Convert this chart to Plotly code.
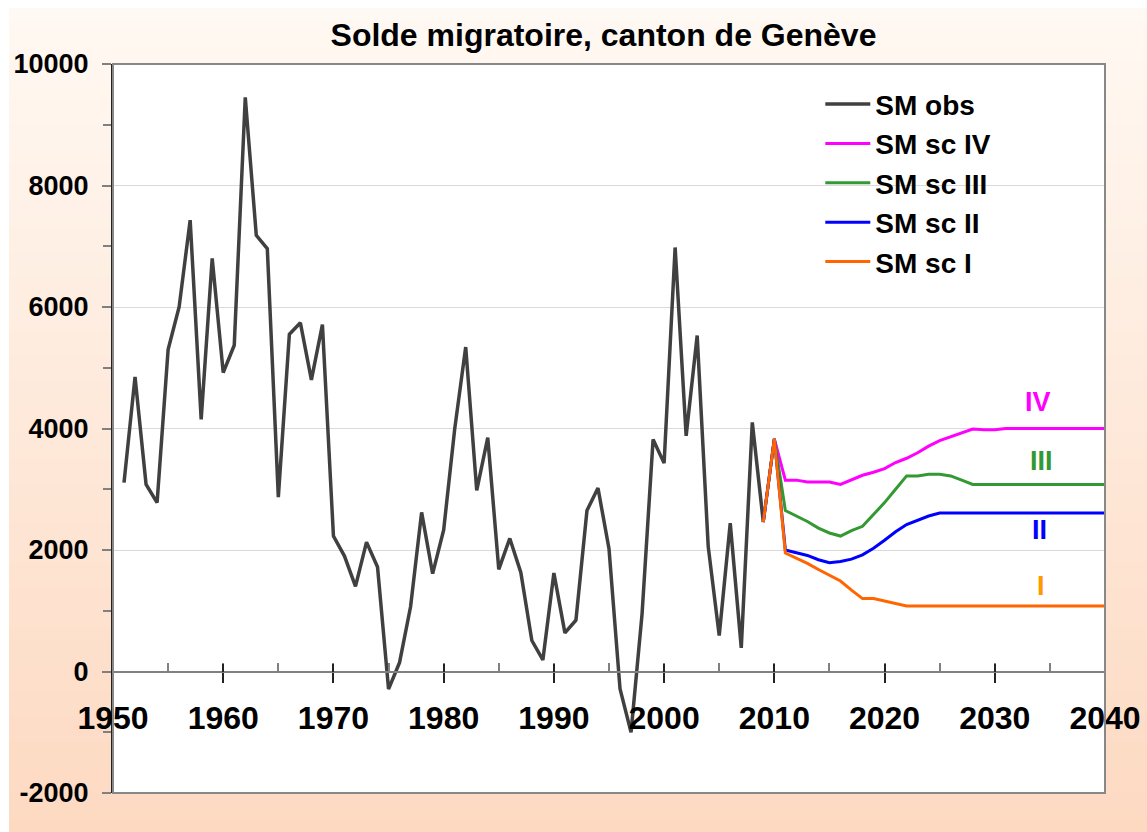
import plotly.graph_objects as go

# ---------------- data ----------------
obs_years = list(range(1951, 2010))
obs_values = [3110, 4850, 3080, 2780, 5300, 6000, 7430, 4150, 6800, 4920,
              5370, 9450, 7180, 6960, 2870, 5550, 5740, 4800, 5710, 2230,
              1900, 1400, 2130, 1720, -290, 150, 1070, 2620, 1610, 2330,
              3990, 5340, 2980, 3850, 1680, 2190, 1630, 510, 190, 1620,
              635, 845, 2650, 3020, 2020, -285, -1000, 950, 3820, 3430,
              6980, 3880, 5530, 2060, 590, 2440, 390, 4100, 2460]

sc_years = list(range(2009, 2041))
sc_IV = [2460, 3830, 3150, 3150, 3120, 3120, 3120, 3080, 3160, 3230,
         3280, 3340, 3440, 3510, 3600, 3710, 3800, 3860, 3920, 3990,
         3980, 3980, 4000, 4000, 4000, 4000, 4000, 4000, 4000, 4000,
         4000, 4000]
sc_III = [2460, 3830, 2650, 2560, 2470, 2360, 2280, 2230, 2320, 2390,
          2580, 2780, 3000, 3220, 3220, 3245, 3245, 3220, 3150, 3080,
          3080, 3080, 3080, 3080, 3080, 3080, 3080, 3080, 3080, 3080,
          3080, 3080]
sc_II = [2460, 3830, 2000, 1950, 1910, 1840, 1790, 1810, 1850, 1920,
         2030, 2160, 2300, 2420, 2490, 2560, 2610, 2610, 2610, 2610,
         2610, 2610, 2610, 2610, 2610, 2610, 2610, 2610, 2610, 2610,
         2610, 2610]
sc_I = [2460, 3830, 1950, 1870, 1780, 1680, 1580, 1490, 1340, 1200,
        1200, 1160, 1120, 1080, 1080, 1080, 1080, 1080, 1080, 1080,
        1080, 1080, 1080, 1080, 1080, 1080, 1080, 1080, 1080, 1080,
        1080, 1080]

series_names = ["SM obs", "SM sc IV", "SM sc III", "SM sc II", "SM sc I"]
label_texts = ["IV", "III", "II", "I"]
label_x = [2033.9, 2034.2, 2034.1, 2034.2]
label_y = [4430, 3460, 2330, 1400]

x_tick_vals = [1950, 1960, 1970, 1980, 1990, 2000, 2010, 2020, 2030, 2040]
x_tick_text = ["1950", "1960", "1970", "1980", "1990", "2000", "2010", "2020", "2030", "2040"]
y_tick_vals = [-2000, 0, 2000, 4000, 6000, 8000, 10000]
y_tick_text = ["-2000", "0", "2000", "4000", "6000", "8000", "10000"]

title_text = "Solde migratoire, canton de Genève"

# ---------------- style ----------------
FONT = "Liberation Sans, Arial, sans-serif"
c_obs = "#404040"
c_IV = "#FF00FF"
c_III = "#339933"
c_II = "#0000FF"
c_I = "#FF6600"
label_colors = ["#FF00FF", "#339933", "#0000FF", "#FF9900"]

W, H = 1147, 832
ml, mr, mt, mb = 113, 42, 64, 39
PW = W - ml - mr
PH = H - mt - mb


def px_to_paper_x(px):
    return (px - ml) / PW


def px_to_paper_y(py):
    return (H - mb - py) / PH


fig = go.Figure()
fig.add_trace(go.Scatter(x=obs_years, y=obs_values, mode="lines", name=series_names[0],
                         line=dict(color=c_obs, width=3.5)))
for name, vals, col in [(series_names[1], sc_IV, c_IV), (series_names[2], sc_III, c_III),
                        (series_names[3], sc_II, c_II), (series_names[4], sc_I, c_I)]:
    fig.add_trace(go.Scatter(x=sc_years, y=vals, mode="lines", name=name,
                             line=dict(color=col, width=3)))
# helper trace for the overlay axis (crossing major ticks)
fig.add_trace(go.Scatter(x=[x_tick_vals[0]], y=[None], xaxis="x2", showlegend=False,
                         hoverinfo="skip", mode="lines"))

for t, xx, yy, col in zip(label_texts, label_x, label_y, label_colors):
    fig.add_annotation(x=xx, y=yy, text=t, showarrow=False, xanchor="center", yanchor="middle",
                       font=dict(family=FONT, size=27, color=col, weight="bold"))

# background gradient (chart area, from pixel y=8 to bottom, x=9 to right)
top = (255, 249, 243)
bot = (253, 217, 193)
n = 64
py_top, py_bot = 8, H
shapes = []
for i in range(n):
    f = (i + 0.5) / n
    r = round(top[0] + (bot[0] - top[0]) * f)
    g = round(top[1] + (bot[1] - top[1]) * f)
    b = round(top[2] + (bot[2] - top[2]) * f)
    pa = py_top + (py_bot - py_top) * i / n
    pb = py_top + (py_bot - py_top) * (i + 1) / n + 1
    shapes.append(dict(type="rect", xref="paper", yref="paper",
                       x0=px_to_paper_x(9), x1=px_to_paper_x(W + 2),
                       y0=px_to_paper_y(min(pb, H + 2)), y1=px_to_paper_y(pa),
                       line=dict(width=0), fillcolor=f"rgb({r},{g},{b})", layer="below"))
shapes.append(dict(type="rect", xref="x domain", yref="y domain", x0=0, x1=1, y0=0, y1=1,
                   line=dict(width=0), fillcolor="white", layer="below"))
shapes.append(dict(type="rect", xref="x domain", yref="y domain", x0=0, x1=1, y0=0, y1=1,
                   line=dict(width=2, color="#888888"), fillcolor="rgba(0,0,0,0)", layer="above"))
fig.update_layout(shapes=shapes)

zero_pos = (0 - y_tick_vals[0]) / (y_tick_vals[-1] - y_tick_vals[0])

fig.update_layout(
    width=W, height=H,
    margin=dict(l=ml, r=mr, t=mt, b=mb, autoexpand=False),
    paper_bgcolor="white",
    plot_bgcolor="white",
    title=dict(text=title_text, x=603.5 / W, xanchor="center", y=1 - 35 / H, yanchor="middle",
               xref="container", yref="container", automargin=False,
               font=dict(family=FONT, size=32, color="black", weight="bold")),
    showlegend=True,
    legend=dict(x=0.713, y=0.979, xanchor="left", yanchor="top",
                bgcolor="rgba(0,0,0,0)", borderwidth=0,
                font=dict(family=FONT, size=28, color="black", weight="bold"),
                itemwidth=45, tracegroupgap=0),
    xaxis=dict(range=[1950, 2040], anchor="free", position=zero_pos, automargin=False,
               tickvals=x_tick_vals, ticktext=x_tick_text,
               ticks="outside", ticklen=10, tickwidth=1.5, tickcolor="#222222",
               ticklabelstandoff=8,
               minor=dict(dtick=5, tick0=1950, ticks="inside", ticklen=8, tickcolor="#808080",
                          tickwidth=1.5, showgrid=False),
               showline=True, linecolor="#808080", linewidth=2,
               showgrid=False, zeroline=False,
               tickfont=dict(family=FONT, size=32, color="black", weight="bold")),
    xaxis2=dict(range=[1950, 2040], overlaying="x", anchor="free", position=zero_pos,
                automargin=False,
                side="bottom", tickvals=x_tick_vals, ticktext=[""] * len(x_tick_vals),
                ticks="inside", ticklen=8, tickwidth=1.5, tickcolor="#222222",
                showline=False, showgrid=False, zeroline=False, showticklabels=False),
    yaxis=dict(range=[-2000, 10000], tickvals=y_tick_vals, ticktext=y_tick_text,
               automargin=False,
               ticks="outside", ticklen=9, tickwidth=1.5, tickcolor="#808080",
               ticklabelstandoff=8,
               minor=dict(dtick=1000, tick0=0, ticks="outside", ticklen=8, tickcolor="#808080",
                          tickwidth=1.5, showgrid=False),
               showline=True, linecolor="#222222", linewidth=2,
               showgrid=True, gridcolor="#D9D9D9", gridwidth=1, zeroline=False,
               tickfont=dict(family=FONT, size=27, color="black", weight="bold")),
)

fig.write_html("out.html", config={"displayModeBar": False},
               post_script="document.body.style.margin='0';")
